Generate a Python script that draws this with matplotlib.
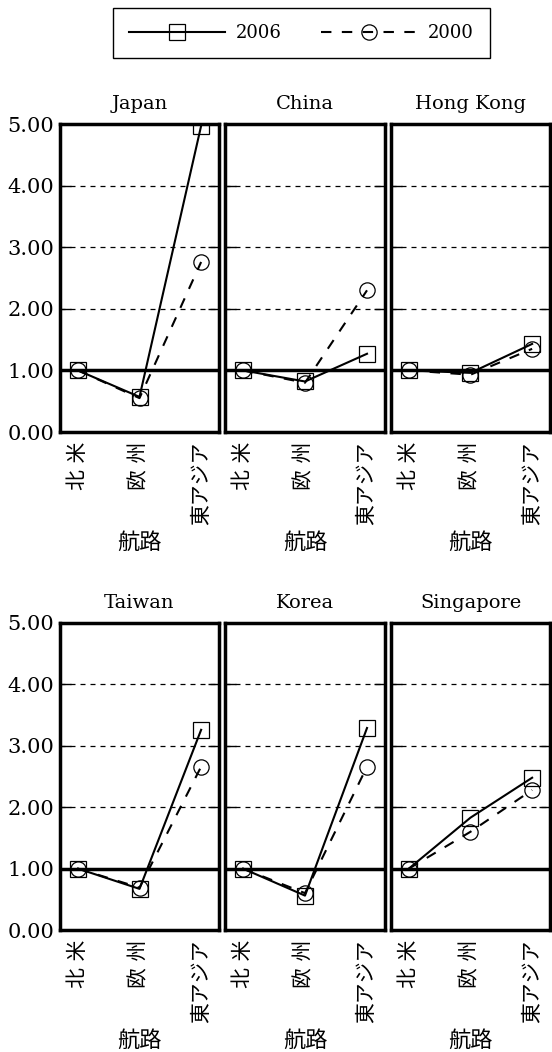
import matplotlib
matplotlib.use("Agg")
import matplotlib.pyplot as plt
from matplotlib.lines import Line2D

plt.rcParams['font.family'] = ['DejaVu Serif', 'Noto Sans CJK JP']

# data
regions = ["Japan", "China", "Hong Kong", "Taiwan", "Korea", "Singapore"]
routes = ["北 米", "欧 州", "東アジア"]
v2006 = {
    "Japan":     [1.00, 0.57, 4.97],
    "China":     [1.00, 0.82, 1.27],
    "Hong Kong": [1.00, 0.96, 1.43],
    "Taiwan":    [1.00, 0.67, 3.26],
    "Korea":     [1.00, 0.56, 3.29],
    "Singapore": [1.00, 1.83, 2.48],
}
v2000 = {
    "Japan":     [1.00, 0.55, 2.76],
    "China":     [1.00, 0.80, 2.30],
    "Hong Kong": [1.00, 0.93, 1.35],
    "Taiwan":    [1.00, 0.69, 2.66],
    "Korea":     [1.00, 0.60, 2.66],
    "Singapore": [1.00, 1.60, 2.28],
}
yticks = [0, 1, 2, 3, 4, 5]

W, H = 552, 1052
fig = plt.figure(figsize=(W / 100, H / 100), dpi=100)

# panel boxes in pixels: (left, right), (top, bottom)
cols = [(60, 219), (225, 385), (391, 550)]
rows = [(124, 432), (623, 930)]

x = list(range(len(routes)))
for i, name in enumerate(regions):
    r, c = divmod(i, 3)
    (l, rr), (t, b) = cols[c], rows[r]
    ax = fig.add_axes([l / W, 1 - b / H, (rr - l) / W, (b - t) / H])
    for g in [2, 3, 4]:
        ax.axhline(g, color='black', lw=0.9, ls=(0, (4, 4)), zorder=1)
    ax.axhline(1, color='black', lw=2.5, zorder=2)
    ax.plot(x, v2000[name], ls=(0, (5, 5)), color='black', lw=1.5,
            marker='o', ms=11, mfc='none', mec='black', mew=0.9, zorder=3)
    ax.plot(x, v2006[name], ls='-', color='black', lw=1.5,
            marker='s', ms=11, mfc='none', mec='black', mew=0.9, zorder=4)
    ax.set_xlim(-0.29, 2.29)
    ax.set_ylim(0, 5)
    ax.set_yticks(yticks)
    ax.tick_params(axis='y', direction='in', left=True, right=True,
                   length=8, width=1, labelsize=15, pad=4)
    if c == 0:
        ax.set_yticklabels(["%.2f" % v for v in yticks])
    else:
        ax.set_yticklabels([])
    ax.set_xticks(x)
    ax.set_xticklabels(routes, rotation=90, fontsize=15, va='top')
    ax.tick_params(axis='x', length=0, pad=7)
    for s in ax.spines.values():
        s.set_linewidth(2.5)
    ax.set_title(name, fontsize=14, pad=11)
    ax.set_xlabel("航路", fontsize=16, labelpad=5)

handles = [
    Line2D([], [], color='black', lw=1.5, marker='s', ms=11, mfc='none', mew=0.9),
    Line2D([], [], color='black', lw=1.5, ls=(0, (5, 5)), marker='o', ms=11,
           mfc='none', mew=0.9),
]
fig.legend(handles, ["2006", "2000"], loc='upper center',
           bbox_to_anchor=(0.546, 0.9925), ncol=2, handlelength=5.3,
           handletextpad=0.6, fontsize=13, frameon=True, fancybox=False,
           edgecolor='black', framealpha=1, columnspacing=2.2,
           borderpad=0.9, borderaxespad=0)

fig.savefig("out.png", dpi=100)
